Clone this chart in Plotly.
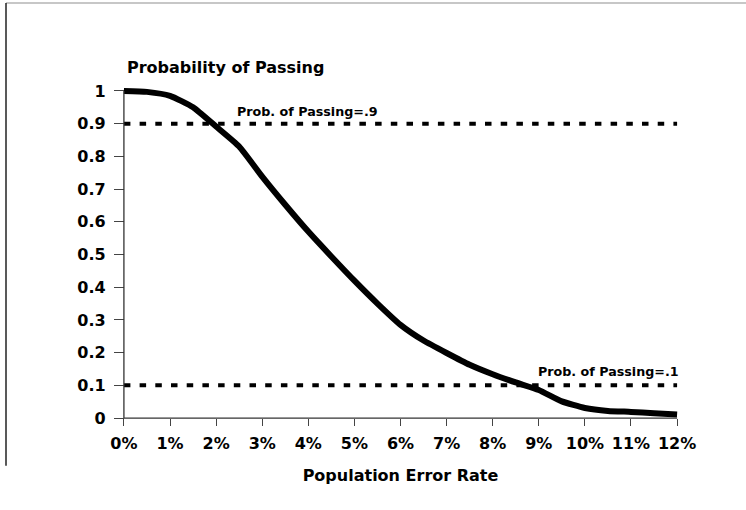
import plotly.graph_objects as go

# ---- data ----
error_rate_pct = [0, 0.5, 1, 1.5, 2, 2.5, 3, 3.5, 4, 4.5, 5, 5.5, 6, 6.5, 7, 7.5,
                  8, 8.5, 9, 9.5, 10, 10.5, 11, 11.5, 12]
prob_passing = [1.0, 0.997, 0.985, 0.95, 0.891, 0.83, 0.738, 0.652, 0.57, 0.494,
                0.42, 0.35, 0.285, 0.237, 0.199, 0.163, 0.134, 0.109, 0.086,
                0.051, 0.031, 0.022, 0.019, 0.015, 0.011]
ref_levels = [0.9, 0.1]
ref_labels = ["Prob. of Passing=.9", "Prob. of Passing=.1"]
x_tick_vals = list(range(0, 13))
x_tick_labels = [f"{v}%" for v in x_tick_vals]
y_tick_vals = [0, 0.1, 0.2, 0.3, 0.4, 0.5, 0.6, 0.7, 0.8, 0.9, 1]
y_tick_labels = ["0", "0.1", "0.2", "0.3", "0.4", "0.5", "0.6", "0.7", "0.8", "0.9", "1"]

FONT = "DejaVu Sans"
XR = [-0.15, 12.15]
YR = [-0.015, 1.015]
L, R, T, B = 117.4, 62.1, 86.1, 86.8
W, H = 746, 510
pw, ph = W - L - R, H - T - B

def px_x(p):  # pixel -> paper x
    return (p - L) / pw

def px_y(p):  # pixel -> paper y
    return (H - B - p) / ph

fig = go.Figure()

for lvl in ref_levels:
    fig.add_trace(go.Scatter(
        x=[x_tick_vals[0], x_tick_vals[-1]], y=[lvl, lvl], mode="lines",
        line=dict(color="black", width=4, dash="6.5px,9.2px"),
        hoverinfo="skip", showlegend=False))

fig.add_trace(go.Scatter(
    x=error_rate_pct, y=prob_passing, mode="lines",
    line=dict(color="black", width=6, shape="spline", smoothing=0.5),
    showlegend=False))

# axis lines spanning exactly 0..12 and 0..1
fig.add_shape(type="line", xref="x", yref="y", x0=0, x1=12, y0=0, y1=0,
              line=dict(color="#333", width=1.3))
fig.add_shape(type="line", xref="x", yref="y", x0=0, x1=0, y0=0, y1=1,
              line=dict(color="#333", width=1.3))

# frame fragments
fig.add_shape(type="line", xref="paper", yref="paper",
              x0=px_x(6.5), x1=px_x(746), y0=px_y(3), y1=px_y(3),
              line=dict(color="#b4b4b4", width=1.5))
fig.add_shape(type="line", xref="paper", yref="paper",
              x0=px_x(6.5), x1=px_x(6.5), y0=px_y(3), y1=px_y(466),
              line=dict(color="#222", width=1.5))

# annotations
fig.add_annotation(text="Probability of Passing", xref="paper", yref="paper",
                   x=px_x(125), y=px_y(68), xanchor="left", yanchor="middle", showarrow=False,
                   font=dict(family=FONT, size=16, color="black", weight="bold"))
fig.add_annotation(text=ref_labels[0], xref="x", yref="y",
                   x=2.40, y=0.937, xanchor="left", yanchor="middle", showarrow=False,
                   font=dict(family=FONT, size=12.7, color="black", weight="bold"))
fig.add_annotation(text=ref_labels[1], xref="x", yref="y",
                   x=12.08, y=0.141, xanchor="right", yanchor="middle", showarrow=False,
                   font=dict(family=FONT, size=12.7, color="black", weight="bold"))

x0_paper = (0 - YR[0]) / (YR[1] - YR[0])
y0_paper = (0 - XR[0]) / (XR[1] - XR[0])

fig.update_layout(
    width=W, height=H,
    margin=dict(l=L, r=R, t=T, b=B, pad=0),
    paper_bgcolor="white", plot_bgcolor="white",
    showlegend=False,
    xaxis=dict(range=XR, tickvals=x_tick_vals, ticktext=x_tick_labels,
               showgrid=False, zeroline=False, showline=False,
               ticks="outside", ticklen=7, tickwidth=1.2, tickcolor="#444",
               ticklabelstandoff=4,
               anchor="free", position=x0_paper,
               tickfont=dict(family=FONT, size=16, color="black", weight="bold"),
               title=dict(text="Population Error Rate", standoff=17.5,
                          font=dict(family=FONT, size=16, color="black", weight="bold"))),
    yaxis=dict(range=YR, tickvals=y_tick_vals, ticktext=y_tick_labels,
               showgrid=False, zeroline=False, showline=False,
               ticks="outside", ticklen=10, tickwidth=1.2, tickcolor="#444",
               ticklabelstandoff=5,
               anchor="free", position=y0_paper,
               tickfont=dict(family=FONT, size=16, color="black", weight="bold")),
)

fig.write_html("out.html", config={"displayModeBar": False},
               post_script="document.body.style.margin='0';document.body.style.padding='0';")
